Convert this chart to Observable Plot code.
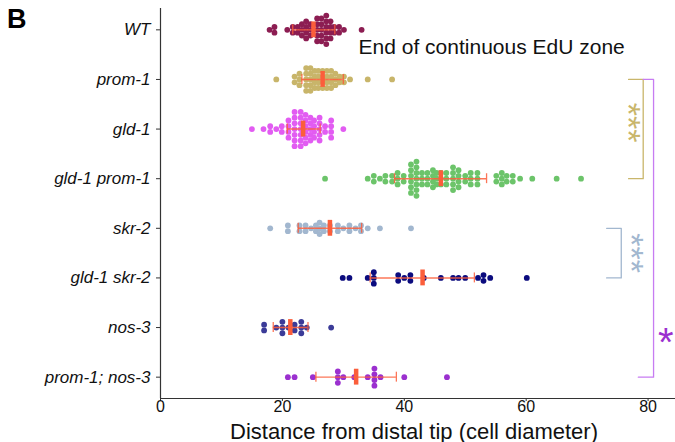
<!DOCTYPE html>
<html><head><meta charset="utf-8">
<script src="https://cdn.jsdelivr.net/npm/d3@7"></script>
<script src="https://cdn.jsdelivr.net/npm/@observablehq/plot@0.6"></script>
<style>
body{margin:0;background:#fff;font-family:"Liberation Sans",Arial,sans-serif;}
#wrap{position:relative;width:675px;height:442px;}
#panel{position:absolute;left:7px;top:4px;font-weight:bold;font-size:27px;color:#000;}
#wrap svg g[aria-label="y-axis tick label"] text{font-style:italic;}
#wrap svg g[aria-label="stars"] text{letter-spacing:3px;}
</style></head><body><div id="wrap"><div id="panel">B</div></div>
<script>
// Genotypes (rows, top to bottom) and colours
const genotypes = ["WT", "prom-1", "gld-1", "gld-1 prom-1", "skr-2", "gld-1 skr-2", "nos-3", "prom-1; nos-3"];
const colors = ["#8c1d52", "#c8b56a", "#e25cf2", "#6cc46a", "#a2b7cf", "#0b0b7e", "#3b3b98", "#9b30cf"];

// Dot columns per genotype: value (cell diameters) and number of stacked dots
const wtValues = [17.9, 18.7, 20.8, 21.7, 22.5, 23.2, 23.9, 24.6, 25.7, 26.4, 27.2, 27.9, 28.5, 29.3, 30.1, 33.0];
const wtCounts = [1, 2, 1, 2, 2, 3, 4, 3, 5, 5, 6, 4, 2, 2, 1, 1];
const prom1Values = [19.0, 22.0, 22.8, 23.9, 24.6, 25.3, 25.9, 26.6, 27.3, 28.0, 28.7, 29.4, 30.1, 31.1, 34.0, 38.0];
const prom1Counts = [1, 2, 3, 5, 5, 4, 4, 4, 4, 4, 3, 2, 2, 1, 1, 1];
const gld1Values = [15.0, 16.9, 18.0, 19.0, 19.9, 21.0, 22.0, 23.0, 23.8, 24.6, 25.2, 26.1, 27.0, 28.0, 30.0];
const gld1Counts = [1, 1, 2, 1, 2, 4, 7, 7, 6, 5, 4, 5, 2, 4, 1];
const gld1prom1Values = [27.0, 34.0, 35.0, 36.0, 36.9, 38.0, 38.9, 39.9, 41.1, 42.0, 42.9, 43.8, 44.7, 45.3, 46.0, 46.9, 48.0, 48.9, 50.0, 50.9, 52.0, 55.1, 56.0, 56.8, 57.8, 59.0, 61.0, 65.0, 69.0];
const gld1prom1Counts = [1, 1, 2, 1, 2, 2, 3, 2, 6, 7, 3, 3, 4, 3, 3, 3, 5, 4, 2, 3, 3, 2, 3, 2, 2, 1, 1, 1, 1];
const skr2Values = [18.0, 20.9, 22.8, 23.8, 24.7, 25.5, 26.1, 26.8, 27.8, 29.1, 30.0, 31.0, 32.0, 32.9, 34.0, 36.0, 41.1];
const skr2Counts = [1, 2, 2, 2, 1, 2, 3, 2, 2, 2, 1, 2, 1, 2, 1, 1, 1];
const gld1skr2Values = [29.9, 31.0, 34.0, 35.0, 39.0, 40.0, 41.0, 43.2, 46.0, 48.0, 48.9, 50.0, 52.1, 53.0, 54.1, 60.1];
const gld1skr2Counts = [1, 1, 1, 3, 2, 1, 2, 1, 1, 1, 1, 1, 1, 2, 1, 1];
const nos3Values = [17.0, 19.0, 20.0, 21.0, 22.0, 23.1, 24.0, 28.0];
const nos3Counts = [2, 1, 3, 1, 2, 3, 1, 1];
const prom1nos3Values = [20.9, 22.0, 25.0, 29.1, 30.0, 31.8, 34.0, 35.1, 36.1, 40.0, 47.0];
const prom1nos3Counts = [1, 1, 1, 3, 1, 1, 1, 4, 1, 1, 1];

// Summary per genotype: mean and error-bar ends
const means = [25.1, 26.6, 23.4, 46.0, 27.8, 43.0, 21.3, 32.1];
const lows  = [21.7, 23.2, 20.8, 38.4, 22.6, 34.4, 18.5, 25.5];
const highs = [28.6, 30.0, 26.2, 53.5, 33.0, 51.5, 24.2, 38.7];

const xTicks = [0, 20, 40, 60, 80];
const xLabel = "Distance from distal tip (cell diameter)";
const note = "End of continuous EdU zone";

// Significance brackets (rows joined, x of vertical bar and arm ends)
const brackets = [
  {from: 1, to: 3, x: 79.2, xTop: 76.8, xBottom: 76.8, color: "#c9b66b"},
  {from: 4, to: 5, x: 75.6, xTop: 73.2, xBottom: 73.2, color: "#a2b7cf"},
  {from: 1, to: 7, x: 80.9, xTop: 79.2, xBottom: 78.4, color: "#c77cf2"}
];
// Significance marks (stacked vertically)
const stars = [
  {x: 77.5, y: 1.87, label: "***", color: "#c9b66b"},
  {x: 78.0, y: 4.5, label: "***", color: "#a2b7cf"}
];
const singleStar = [{x: 82.9, y: 6.12, label: "*", color: "#9b30cf"}];

const allValues = [wtValues, prom1Values, gld1Values, gld1prom1Values, skr2Values, gld1skr2Values, nos3Values, prom1nos3Values];
const allCounts = [wtCounts, prom1Counts, gld1Counts, gld1prom1Counts, skr2Counts, gld1skr2Counts, nos3Counts, prom1nos3Counts];

const step = 0.115; // vertical dot spacing in row units
const dots = [];
genotypes.forEach((g, i) => {
  allValues[i].forEach((v, j) => {
    const n = allCounts[i][j];
    for (let k = 0; k < n; k++) dots.push({g, row: i, x: v, off: k - (n - 1) / 2});
  });
});
const stats = genotypes.map((g, i) => ({g, row: i, mean: means[i], lo: lows[i], hi: highs[i]}));
const bracketPts = brackets.flatMap((b, i) => [
  {id: i, x: b.xTop, y: b.from, c: b.color},
  {id: i, x: b.x, y: b.from, c: b.color},
  {id: i, x: b.x, y: b.to, c: b.color},
  {id: i, x: b.xBottom, y: b.to, c: b.color}
]);

const yDomain = [7.43, -0.43];
const red = "#fb5e3b";

const chart = Plot.plot({
  width: 675, height: 442,
  marginLeft: 160, marginRight: 0, marginTop: 8, marginBottom: 44,
  x: {domain: [0, 84.5]},
  y: {domain: yDomain},
  color: {domain: genotypes, range: colors},
  style: {fontFamily: "'Liberation Sans', Arial, sans-serif", fontSize: "17px", background: "white", color: "#111", overflow: "visible"},
  marks: [
    Plot.ruleX([0], {stroke: "#333", strokeWidth: 1.2}),
    Plot.ruleY([yDomain[0]], {stroke: "#333", strokeWidth: 1.2}),
    Plot.axisX({ticks: xTicks, tickSize: 3, tickPadding: -1, fontSize: 16, label: null, stroke: "#333"}),
    Plot.axisY({ticks: d3.range(genotypes.length), tickFormat: i => genotypes[i], tickSize: 4, tickPadding: 6, fontSize: 17, fontStyle: "italic", label: null, stroke: "#333"}),
    Plot.dot(dots, {x: "x", y: d => d.row + d.off * step, r: 2.9, fill: "g"}),
    Plot.ruleY(stats, {y: "row", x1: "lo", x2: "hi", stroke: red, strokeOpacity: 0.85, strokeWidth: 1.4}),
    Plot.ruleX(stats, {x: "lo", y1: d => d.row - 0.1, y2: d => d.row + 0.1, stroke: red, strokeOpacity: 0.85, strokeWidth: 1.3}),
    Plot.ruleX(stats, {x: "hi", y1: d => d.row - 0.1, y2: d => d.row + 0.1, stroke: red, strokeOpacity: 0.85, strokeWidth: 1.3}),
    Plot.ruleX(stats, {x: "mean", y1: d => d.row - 0.16, y2: d => d.row + 0.16, stroke: red, strokeWidth: 4.5}),
    Plot.line(bracketPts, {x: "x", y: "y", z: "id", stroke: "c", strokeWidth: 1.3}),
    Plot.text(stars, {x: "x", y: "y", text: "label", fill: "color", fontSize: 34, rotate: 90, dx: -4.5, ariaLabel: "stars"}),
    Plot.text(singleStar, {x: "x", y: "y", text: "label", fill: "color", fontSize: 40, dy: 10}),
    Plot.text([note], {x: 32.5, y: 0.36, text: d => d, textAnchor: "start", fontSize: 21, fill: "#111"}),
    Plot.text([xLabel], {frameAnchor: "bottom", lineAnchor: "middle", dx: -4, dy: 33, text: d => d, fontSize: 22, fill: "#111"})
  ]
});
document.getElementById("wrap").appendChild(chart);
</script></body></html>
